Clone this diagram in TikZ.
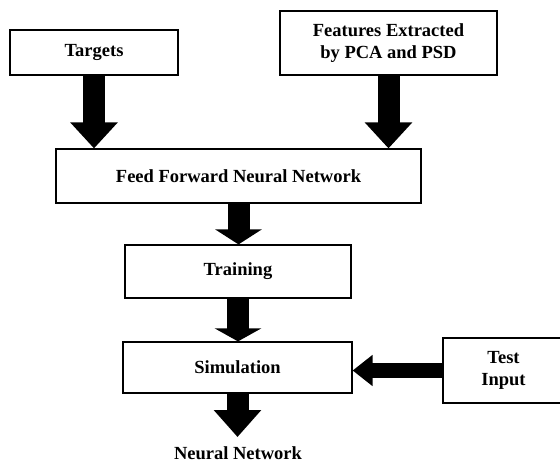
\documentclass[tikz,border=0pt]{standalone}
\usepackage{fontspec}
\setmainfont{Liberation Serif}
\usetikzlibrary{positioning,arrows.meta,calc}
\tikzset{
  blk/.style   ={draw, line width=1.2pt, inner sep=0pt, align=center,
                 font=\fontsize{18.5}{22}\selectfont\bfseries},
  lbl/.style   ={inner sep=0pt, font=\fontsize{18.5}{22}\selectfont\bfseries},
  fat/.style   ={line width=22pt, -{Triangle[width=46pt, length=#1]}},
  fat/.default =26pt,
  thin/.style  ={line width=15pt, -{Triangle[width=30pt, length=20pt]}},
}

\begin{document}
\begin{tikzpicture}[x=1pt, y=-1pt]
  \useasboundingbox (0,0) rectangle (560,463);

  % inputs on top
  \node[blk, minimum width=168, minimum height=45] (tgt) at (94,52.5) {Targets};
  \node[blk, minimum width=217, minimum height=64] (feat) at (388.5,43)
        {Features Extracted\\by PCA and PSD};

  % main chain
  \node[blk, minimum width=365, minimum height=54] (ffnn) at (238.5,176)
        {Feed Forward Neural Network};
  \node[blk, minimum width=226, minimum height=53] (train) at (238,271.5) {Training};
  \node[blk, minimum width=229, minimum height=51] (sim) at (237.5,367.5) {Simulation};
  \node[blk, minimum width=121, minimum height=65] (test) at (503.5,370.5)
        {Test\\Input};
  \node[lbl, anchor=north] (nn) at (238,446) {Neural Network};

  % block arrows
  \draw[fat] (tgt.south) -- (tgt.south |- ffnn.north);
  \draw[fat] (feat.south) -- (feat.south |- ffnn.north);
  \draw[fat=15pt] (ffnn.south) -- (ffnn.south |- train.north);
  \draw[fat=13pt] (train.south) -- (train.south |- sim.north);
  \draw[fat=27pt, shorten >=9pt] (sim.south) -- (sim.south |- nn.north);
  \draw[thin] (test.west) -- (test.west -| sim.east);
\end{tikzpicture}
\end{document}
